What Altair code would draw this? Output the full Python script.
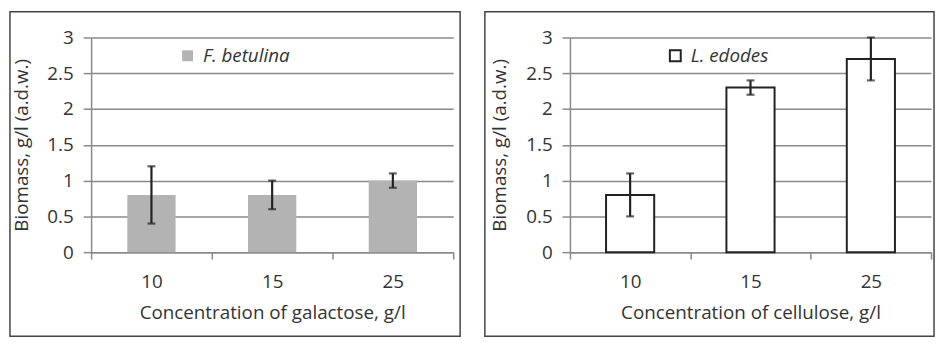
import altair as alt
import pandas as pd

conc = ["10", "15", "25"]
fb_mean = [0.8, 0.8, 1.0]
fb_lo = [0.4, 0.6, 0.9]
fb_hi = [1.2, 1.0, 1.1]
le_mean = [0.8, 2.3, 2.7]
le_lo = [0.5, 2.2, 2.4]
le_hi = [1.1, 2.4, 3.0]
y_ticks = [0, 0.5, 1, 1.5, 2, 2.5, 3]
species = ["F. betulina", "L. edodes"]
x_titles = ["Concentration of galactose, g/l", "Concentration of cellulose, g/l"]
y_title = "Biomass, g/l (a.d.w.)"

FONT = "Open Sans"
FS = 19
GRID = "#8a8a8a"
TEXT = "#333333"
INK = "#222222"


def panel(mean, lo, hi, sp, xtitle, fill, stroke_w, width, frame_l, frame_r, leg_x):
    df = pd.DataFrame({"conc": conc, "mean": mean, "lo": lo, "hi": hi,
                       "species": [sp] * len(conc)})
    x_axis = alt.Axis(labelAngle=0, tickBand="extent", grid=False,
                      tickSize=7, labelPadding=14, titlePadding=12)
    x_scale = alt.Scale(paddingInner=0, paddingOuter=0)
    y_axis = alt.Axis(values=y_ticks, format="~g", grid=True, tickSize=8,
                      labelPadding=10, titlePadding=16)
    y_scale = alt.Scale(domain=[0, 3], nice=False)

    def X():
        return alt.X("conc:N", title=xtitle, sort=conc, scale=x_scale, axis=x_axis)

    def Y(field):
        return alt.Y(field, title=y_title, scale=y_scale, axis=y_axis)

    bar_kw = dict(width=alt.RelativeBandSize(0.4))
    if stroke_w > 0:
        bar_kw.update(stroke=INK, strokeWidth=stroke_w)
    bars = alt.Chart(df).mark_bar(**bar_kw).encode(
        x=X(), y=Y("mean:Q"),
        color=alt.Color("species:N",
                        scale=alt.Scale(domain=[sp], range=[fill]),
                        legend=alt.Legend(title=None, orient="none", legendX=leg_x, legendY=9,
                                          symbolType="square", symbolSize=121,
                                          symbolStrokeColor=INK,
                                          symbolStrokeWidth=stroke_w,
                                          labelFontStyle="italic", labelFontSize=FS,
                                          labelFont=FONT, labelColor=TEXT,
                                          labelOffset=6, padding=0)))
    rule = alt.Chart(df).mark_rule(color=INK, strokeWidth=2.2).encode(
        x=X(), y=Y("lo:Q"), y2="hi:Q")
    cap_lo = alt.Chart(df).mark_tick(color=INK, size=8, thickness=2.2).encode(
        x=X(), y=Y("lo:Q"))
    cap_hi = alt.Chart(df).mark_tick(color=INK, size=8, thickness=2.2).encode(
        x=X(), y=Y("hi:Q"))
    frame = alt.Chart(pd.DataFrame({"f": [0]})).mark_rect(
        filled=False, stroke="#444444", strokeWidth=1.5).encode(
        x=alt.value(frame_l), x2=alt.value(frame_r),
        y=alt.value(-26), y2=alt.value(302))
    return alt.layer(bars, rule, cap_lo, cap_hi, frame).properties(width=width, height=217)


left = panel(fb_mean, fb_lo, fb_hi, species[0], x_titles[0], "#b3b3b3", 0, 366, -82, 373, 88)
right = panel(le_mean, le_lo, le_hi, species[1], x_titles[1], "#ffffff", 2, 365, -86, 368, 97)

chart = alt.hconcat(left, right, spacing=118, bounds="flush").resolve_scale(
    color="independent", x="independent", y="independent"
).resolve_legend(color="independent").properties(padding=0).configure_axis(
    domainColor=GRID, tickColor=GRID, gridColor=GRID,
    domainWidth=1.5, tickWidth=1.5, gridWidth=1.5,
    labelFont=FONT, titleFont=FONT, labelFontSize=FS, titleFontSize=FS,
    labelColor=TEXT, titleColor=TEXT, titleFontWeight="normal"
).configure_view(stroke="transparent")

chart.save("out.html", embed_options={"renderer": "svg", "actions": False})
